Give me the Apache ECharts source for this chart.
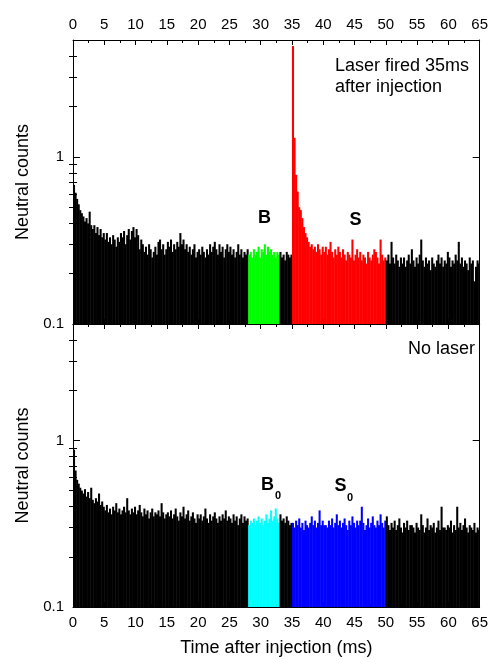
<!DOCTYPE html>
<html><head><meta charset="utf-8">
<script src="https://cdn.jsdelivr.net/npm/echarts@6/dist/echarts.min.js"></script>
<style>html,body{margin:0;padding:0;background:#fff}#c{width:491px;height:659px}</style>
</head><body><div id="c"></div>
<script>
// ---- data ----
const binWidth = 0.25;          // ms per histogram bin
const xMin = 0, xMax = 65, xStep = 5;
const yMin = 0.1, yMax = 5;
const yMinorTickValues = [0.2,0.3,0.4,0.5,0.6,0.7,0.8,0.9,2,3,4];

// Top panel: laser fired at 35 ms (bins start at 0, 0.25, 0.5 ...)
const topCounts = [
 0.68,0.61,0.56,0.52,0.48,0.46,0.44,0.41,0.43,0.40,0.47,0.39,0.37,0.39,0.35,0.38,0.34,0.37,0.33,0.35,
 0.32,0.35,0.31,0.33,0.30,0.34,0.32,0.29,0.33,0.31,0.35,0.33,0.36,0.30,0.34,0.37,0.32,0.36,0.38,0.33,
 0.37,0.34,0.28,0.32,0.30,0.27,0.29,0.26,0.30,0.28,0.25,0.27,0.29,0.26,0.31,0.32,0.28,0.30,0.26,0.28,
 0.31,0.29,0.32,0.27,0.30,0.28,0.31,0.29,0.35,0.30,0.32,0.28,0.30,0.27,0.29,0.26,0.28,0.30,0.25,0.27,
 0.28,0.26,0.29,0.27,0.25,0.28,0.26,0.30,0.27,0.29,0.31,0.28,0.26,0.30,0.27,0.29,0.25,0.28,0.30,0.27,
 0.29,0.26,0.28,0.25,0.27,0.30,0.26,0.28,0.25,0.27,0.26,0.28,
 0.26,0.27,0.25,0.28,0.26,0.27,0.29,0.25,0.28,0.27,0.30,0.26,0.29,0.27,0.28,0.26,0.27,0.25,0.27,0.26,
 0.27,0.25,0.26,0.24,0.27,0.26,0.25,0.26,
 4.6,1.3,0.78,0.62,0.50,0.48,0.43,0.38,0.35,0.33,
 0.31,0.29,0.30,0.28,0.29,0.27,0.30,0.28,0.26,0.29,
 0.27,0.29,0.26,0.28,0.31,0.27,0.25,0.28,0.26,0.29,
 0.27,0.25,0.28,0.26,0.24,0.27,0.26,0.25,0.32,0.24,
 0.26,0.28,0.25,0.27,0.24,0.26,0.25,0.23,0.27,0.25,
 0.24,0.26,0.28,0.27,0.25,0.23,0.32,0.26,0.24,0.25,
 0.24,0.26,0.23,0.31,0.25,0.23,0.26,0.24,0.22,0.25,
 0.23,0.25,0.22,0.24,0.26,0.23,0.28,0.24,0.22,0.25,
 0.23,0.26,0.32,0.24,0.22,0.25,0.23,0.24,0.21,0.25,
 0.23,0.22,0.24,0.26,0.23,0.25,0.22,0.24,0.23,0.27,
 0.25,0.22,0.24,0.23,0.26,0.24,0.31,0.23,0.25,0.22,
 0.24,0.23,0.21,0.25,0.23,0.24,0.18,0.22,0.24,0.23
];

// Bottom panel: no laser
const bottomCounts = [
 0.88,0.66,0.58,0.55,0.52,0.50,0.48,0.51,0.46,0.49,0.45,0.52,0.44,0.42,0.45,0.43,0.48,0.41,0.43,0.40,
 0.38,0.41,0.37,0.39,0.36,0.40,0.38,0.42,0.37,0.39,0.36,0.38,0.40,0.37,0.45,0.38,0.36,0.39,0.37,0.40,
 0.36,0.38,0.41,0.37,0.35,0.39,0.36,0.38,0.34,0.37,0.39,0.35,0.37,0.36,0.38,0.35,0.42,0.37,0.34,0.36,
 0.37,0.35,0.38,0.34,0.36,0.39,0.35,0.33,0.37,0.35,0.40,0.34,0.36,0.38,0.33,0.35,0.37,0.34,0.32,0.36,
 0.34,0.36,0.33,0.35,0.39,0.34,0.32,0.36,0.33,0.35,0.37,0.34,0.32,0.35,0.33,0.36,0.34,0.38,0.33,0.35,
 0.34,0.32,0.36,0.33,0.35,0.31,0.34,0.36,0.32,0.35,0.33,0.34,
 0.31,0.33,0.32,0.34,0.31,0.33,0.35,0.32,0.34,0.31,0.33,0.36,0.32,0.34,0.38,0.33,0.35,0.39,0.34,0.32,
 0.36,0.33,0.34,0.32,0.35,0.33,0.31,0.32,
 0.32,0.30,0.33,0.31,0.34,0.30,0.32,0.29,0.33,0.31,
 0.30,0.32,0.35,0.31,0.33,0.30,0.32,0.38,0.31,0.33,
 0.31,0.31,0.30,0.33,0.31,0.34,0.30,0.32,0.36,0.31,
 0.33,0.30,0.32,0.34,0.31,0.29,0.33,0.31,0.35,0.32,
 0.30,0.33,0.31,0.33,0.40,0.32,0.29,0.31,0.34,0.30,
 0.32,0.35,0.31,0.30,0.33,0.31,0.36,0.32,0.30,0.33,
 0.35,0.31,0.29,0.32,0.30,0.33,0.29,0.31,0.34,0.30,
 0.28,0.32,0.30,0.33,0.29,0.31,0.31,0.30,0.28,0.32,
 0.30,0.29,0.36,0.31,0.28,0.30,0.34,0.29,0.31,0.30,
 0.32,0.28,0.30,0.33,0.29,0.40,0.30,0.30,0.29,0.31,
 0.30,0.33,0.28,0.31,0.29,0.40,0.30,0.32,0.29,0.31,
 0.34,0.30,0.28,0.31,0.30,0.29,0.32,0.28,0.30,0.29
];

// highlighted windows (ms)
const topWindows = [{from:28, to:33, color:'#00ff00'}, {from:35, to:50, color:'#ff0000'}];
const bottomWindows = [{from:28, to:33, color:'#00ffff'}, {from:35, to:50, color:'#0000ff'}];

// ---- chart ----
const FONT = '"Liberation Sans", Arial, Helvetica, sans-serif';
const chart = echarts.init(document.getElementById('c'), null, {renderer:'canvas'});

function histSeries(counts, windows, xi, yi) {
  return {
    type:'custom', xAxisIndex:xi, yAxisIndex:yi, clip:true, animation:false,
    data: counts.map((v, i) => [i * binWidth, v]),
    renderItem(params, api) {
      const x0 = api.value(0), v = api.value(1);
      const p0 = api.coord([x0, v]);
      const p1 = api.coord([x0 + binWidth, yMin]);
      let color = '#000000';
      for (const w of windows) if (x0 >= w.from - 1e-9 && x0 < w.to - 1e-9) color = w.color;
      return {type:'rect', shape:{x:p0[0], y:p0[1], width:p1[0]-p0[0]+0.5, height:p1[1]-p0[1]},
              style:{fill:color}};
    }
  };
}

function xAx(grid, pos, showLabel, name) {
  return {
    type:'value', gridIndex:grid, position:pos, min:xMin, max:xMax, interval:xStep,
    axisLine:{show:true, onZero:false, lineStyle:{color:'#000', width:1}},
    axisTick:{show:true, inside:true, length:5, lineStyle:{color:'#000'}},
    minorTick:{show:true, splitNumber:2, length:3, lineStyle:{color:'#000'}},
    axisLabel:{show:showLabel, color:'#000', fontSize:15, fontFamily:FONT, margin:8},
    splitLine:{show:false}, minorSplitLine:{show:false},
    name: name || '', nameLocation:'middle', nameGap:32,
    nameTextStyle:{color:'#000', fontSize:18, fontFamily:FONT}
  };
}
function yLog(grid, pos, showLabel, name) {
  return {
    type:'log', logBase:10, gridIndex:grid, position:pos, min:yMin, max:yMax,
    axisLine:{show:true, onZero:false, lineStyle:{color:'#000', width:1}},
    axisTick:{show:true, inside:true, length:7, lineStyle:{color:'#000'}},
    axisLabel:{show:showLabel, showMaxLabel:false, showMinLabel:true, color:'#000', fontSize:15, fontFamily:FONT, margin:9},
    splitLine:{show:false},
    name: name || '', nameLocation:'middle', nameGap:30,
    nameTextStyle:{color:'#000', fontSize:18, fontFamily:FONT}
  };
}
function yMinor(grid, pos) {
  return {
    type:'value', gridIndex:grid, position:pos, min:Math.log10(yMin), max:Math.log10(yMax),
    axisLine:{show:false}, axisLabel:{show:false}, splitLine:{show:false},
    axisTick:{show:true, inside:true, length:4, lineStyle:{color:'#000'},
              customValues: yMinorTickValues.map(v => Math.log10(v))}
  };
}

const txt = (x, y, text, size, weight, align) => ({
  type:'text', x, y, z:100,
  style:{text, fill:'#000', font:(weight||'normal') + ' ' + size + 'px ' + FONT,
         align: align || 'left', verticalAlign:'middle'}
});

chart.setOption({
  animation:false,
  backgroundColor:'#ffffff',
  grid:[
    {left:73, right:10, top:40, height:284},
    {left:73, right:10, top:324, height:283}
  ],
  xAxis:[
    xAx(0, 'top', true),
    xAx(0, 'bottom', false),
    xAx(1, 'top', false),
    xAx(1, 'bottom', true, 'Time after injection (ms)')
  ],
  yAxis:[
    yLog(0, 'left', true, 'Neutral counts'),
    yMinor(0, 'left'),
    yLog(0, 'right', false),
    yMinor(0, 'right'),
    yLog(1, 'left', true, 'Neutral counts'),
    yMinor(1, 'left'),
    yLog(1, 'right', false),
    yMinor(1, 'right')
  ],
  series:[
    histSeries(topCounts, topWindows, 0, 0),
    histSeries(bottomCounts, bottomWindows, 3, 4)
  ],
  graphic:[
    txt(335, 66, 'Laser fired 35ms', 18),
    txt(335, 87, 'after injection', 18),
    txt(475, 349, 'No laser', 18, 'normal', 'right'),
    txt(264.5, 218.5, 'B', 18, 'bold', 'center'),
    txt(355.5, 220, 'S', 18, 'bold', 'center'),
    txt(267.5, 485.5, 'B', 18, 'bold', 'center'),
    txt(278, 496, '0', 11, 'bold', 'center'),
    txt(340.5, 486.5, 'S', 18, 'bold', 'center'),
    txt(350, 498, '0', 11, 'bold', 'center')
  ]
});
</script>
</body></html>
